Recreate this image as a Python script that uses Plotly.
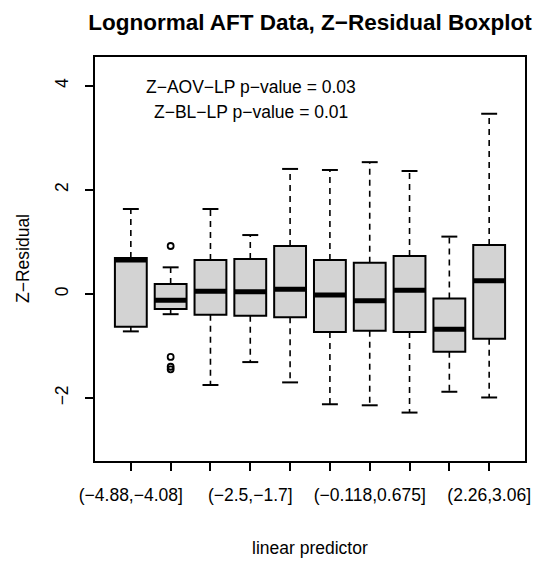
import plotly.graph_objects as go

# ---- data ----
intervals = ["(−4.88,−4.08]", "(−4.08,−3.29]", "(−3.29,−2.5]", "(−2.5,−1.7]",
             "(−1.7,−0.911]", "(−0.911,−0.118]", "(−0.118,0.675]", "(0.675,1.47]",
             "(1.47,2.26]", "(2.26,3.06]"]
shown_labels = [True, False, False, True, False, False, True, False, False, True]
positions = list(range(1, 11))
q1 = [-0.63, -0.29, -0.40, -0.42, -0.45, -0.73, -0.71, -0.73, -1.11, -0.86]
median = [0.65, -0.12, 0.05, 0.04, 0.09, -0.02, -0.13, 0.07, -0.68, 0.25]
q3 = [0.69, 0.19, 0.65, 0.67, 0.92, 0.65, 0.60, 0.73, -0.09, 0.94]
lower_whisker = [-0.72, -0.39, -1.75, -1.31, -1.70, -2.12, -2.14, -2.28, -1.88, -1.99]
upper_whisker = [1.63, 0.51, 1.63, 1.13, 2.40, 2.38, 2.53, 2.36, 1.10, 3.46]
outlier_x = [2, 2, 2, 2]
outlier_y = [0.92, -1.21, -1.40, -1.45]

y_ticks = [-2, 0, 2, 4]
y_tick_text = ["−2", "0", "2", "4"]
p_aov = "Z−AOV−LP p−value = 0.03"
p_bl = "Z−BL−LP p−value = 0.01"

# ---- style ----
FONT = "Liberation Sans, Arial, sans-serif"
FS = 17.5
BOXW = 0.8
CAPW = 0.4

fig = go.Figure()

fig.add_trace(go.Box(
    x=positions, q1=q1, median=median, q3=q3,
    lowerfence=q1, upperfence=q3,
    width=BOXW, whiskerwidth=0,
    fillcolor="#D3D3D3", line=dict(color="black", width=2),
    boxpoints=False, showlegend=False, hoverinfo="skip",
))

# dashed whiskers
wx, wy = [], []
for p, a, b, lo, hi in zip(positions, q1, q3, lower_whisker, upper_whisker):
    wx += [p, p, None, p, p, None]
    wy += [b, hi, None, a, lo, None]
fig.add_trace(go.Scatter(x=wx, y=wy, mode="lines",
                         line=dict(color="black", width=1.6, dash="6px,5px"),
                         showlegend=False, hoverinfo="skip"))

# staples
cx, cy = [], []
for p, lo, hi in zip(positions, lower_whisker, upper_whisker):
    cx += [p - CAPW / 2, p + CAPW / 2, None, p - CAPW / 2, p + CAPW / 2, None]
    cy += [hi, hi, None, lo, lo, None]
fig.add_trace(go.Scatter(x=cx, y=cy, mode="lines",
                         line=dict(color="black", width=2),
                         showlegend=False, hoverinfo="skip"))

# thick medians
mx, my = [], []
for p, m in zip(positions, median):
    mx += [p - BOXW / 2, p + BOXW / 2, None]
    my += [m, m, None]
fig.add_trace(go.Scatter(x=mx, y=my, mode="lines",
                         line=dict(color="black", width=5),
                         showlegend=False, hoverinfo="skip"))

# outliers
fig.add_trace(go.Scatter(x=outlier_x, y=outlier_y, mode="markers",
                         marker=dict(symbol="circle-open", size=6, color="black",
                                     line=dict(width=1.8)),
                         showlegend=False, hoverinfo="skip"))

ticktext = [t if s else "" for t, s in zip(intervals, shown_labels)]

fig.update_layout(
    width=542, height=561,
    margin=dict(l=95, r=11, t=57, b=100),
    paper_bgcolor="white", plot_bgcolor="white",
    font=dict(family=FONT, size=FS, color="black"),
    title=dict(text="<b>Lognormal AFT Data, Z−Residual Boxplot</b>",
               font=dict(size=22.5, family=FONT, color="black"),
               x=0.5, xref="paper", xanchor="center",
               y=1 - 22 / 561, yref="container", yanchor="middle"),
    xaxis=dict(range=[0.1, 10.9], tickmode="array", tickvals=positions,
               ticktext=ticktext, ticks="outside", ticklen=8, tickwidth=1.5,
               tickcolor="black", showline=True, linecolor="black", linewidth=1.5,
               mirror=True, showgrid=False, zeroline=False,
               ticklabelstandoff=9, tickangle=0),
    yaxis=dict(range=[-3.21, 4.55], tickmode="array", tickvals=y_ticks,
               ticktext=y_tick_text, ticks="outside", ticklen=8, tickwidth=1.5,
               tickcolor="black", showline=True, linecolor="black", linewidth=1.5,
               mirror=True, showgrid=False, zeroline=False, tickangle=-90,
               ticklabelstandoff=10),
    annotations=[
        dict(text=p_aov, xref="paper", yref="paper", x=(253 - 95) / 436,
             y=(461 - 87) / 404, showarrow=False, xanchor="center", yanchor="middle",
             font=dict(size=FS)),
        dict(text=p_bl, xref="paper", yref="paper", x=(253 - 95) / 436,
             y=(461 - 112) / 404, showarrow=False, xanchor="center", yanchor="middle",
             font=dict(size=FS)),
        dict(text="linear predictor", xref="paper", yref="paper", x=0.5,
             y=(461 - 548) / 404, showarrow=False, xanchor="center", yanchor="middle",
             font=dict(size=FS)),
        dict(text="Z−Residual", xref="paper", yref="paper", x=(22 - 95) / 436,
             y=0.5, showarrow=False, xanchor="center", yanchor="middle",
             textangle=-90, font=dict(size=FS)),
    ],
)

fig.write_html("out.html")
